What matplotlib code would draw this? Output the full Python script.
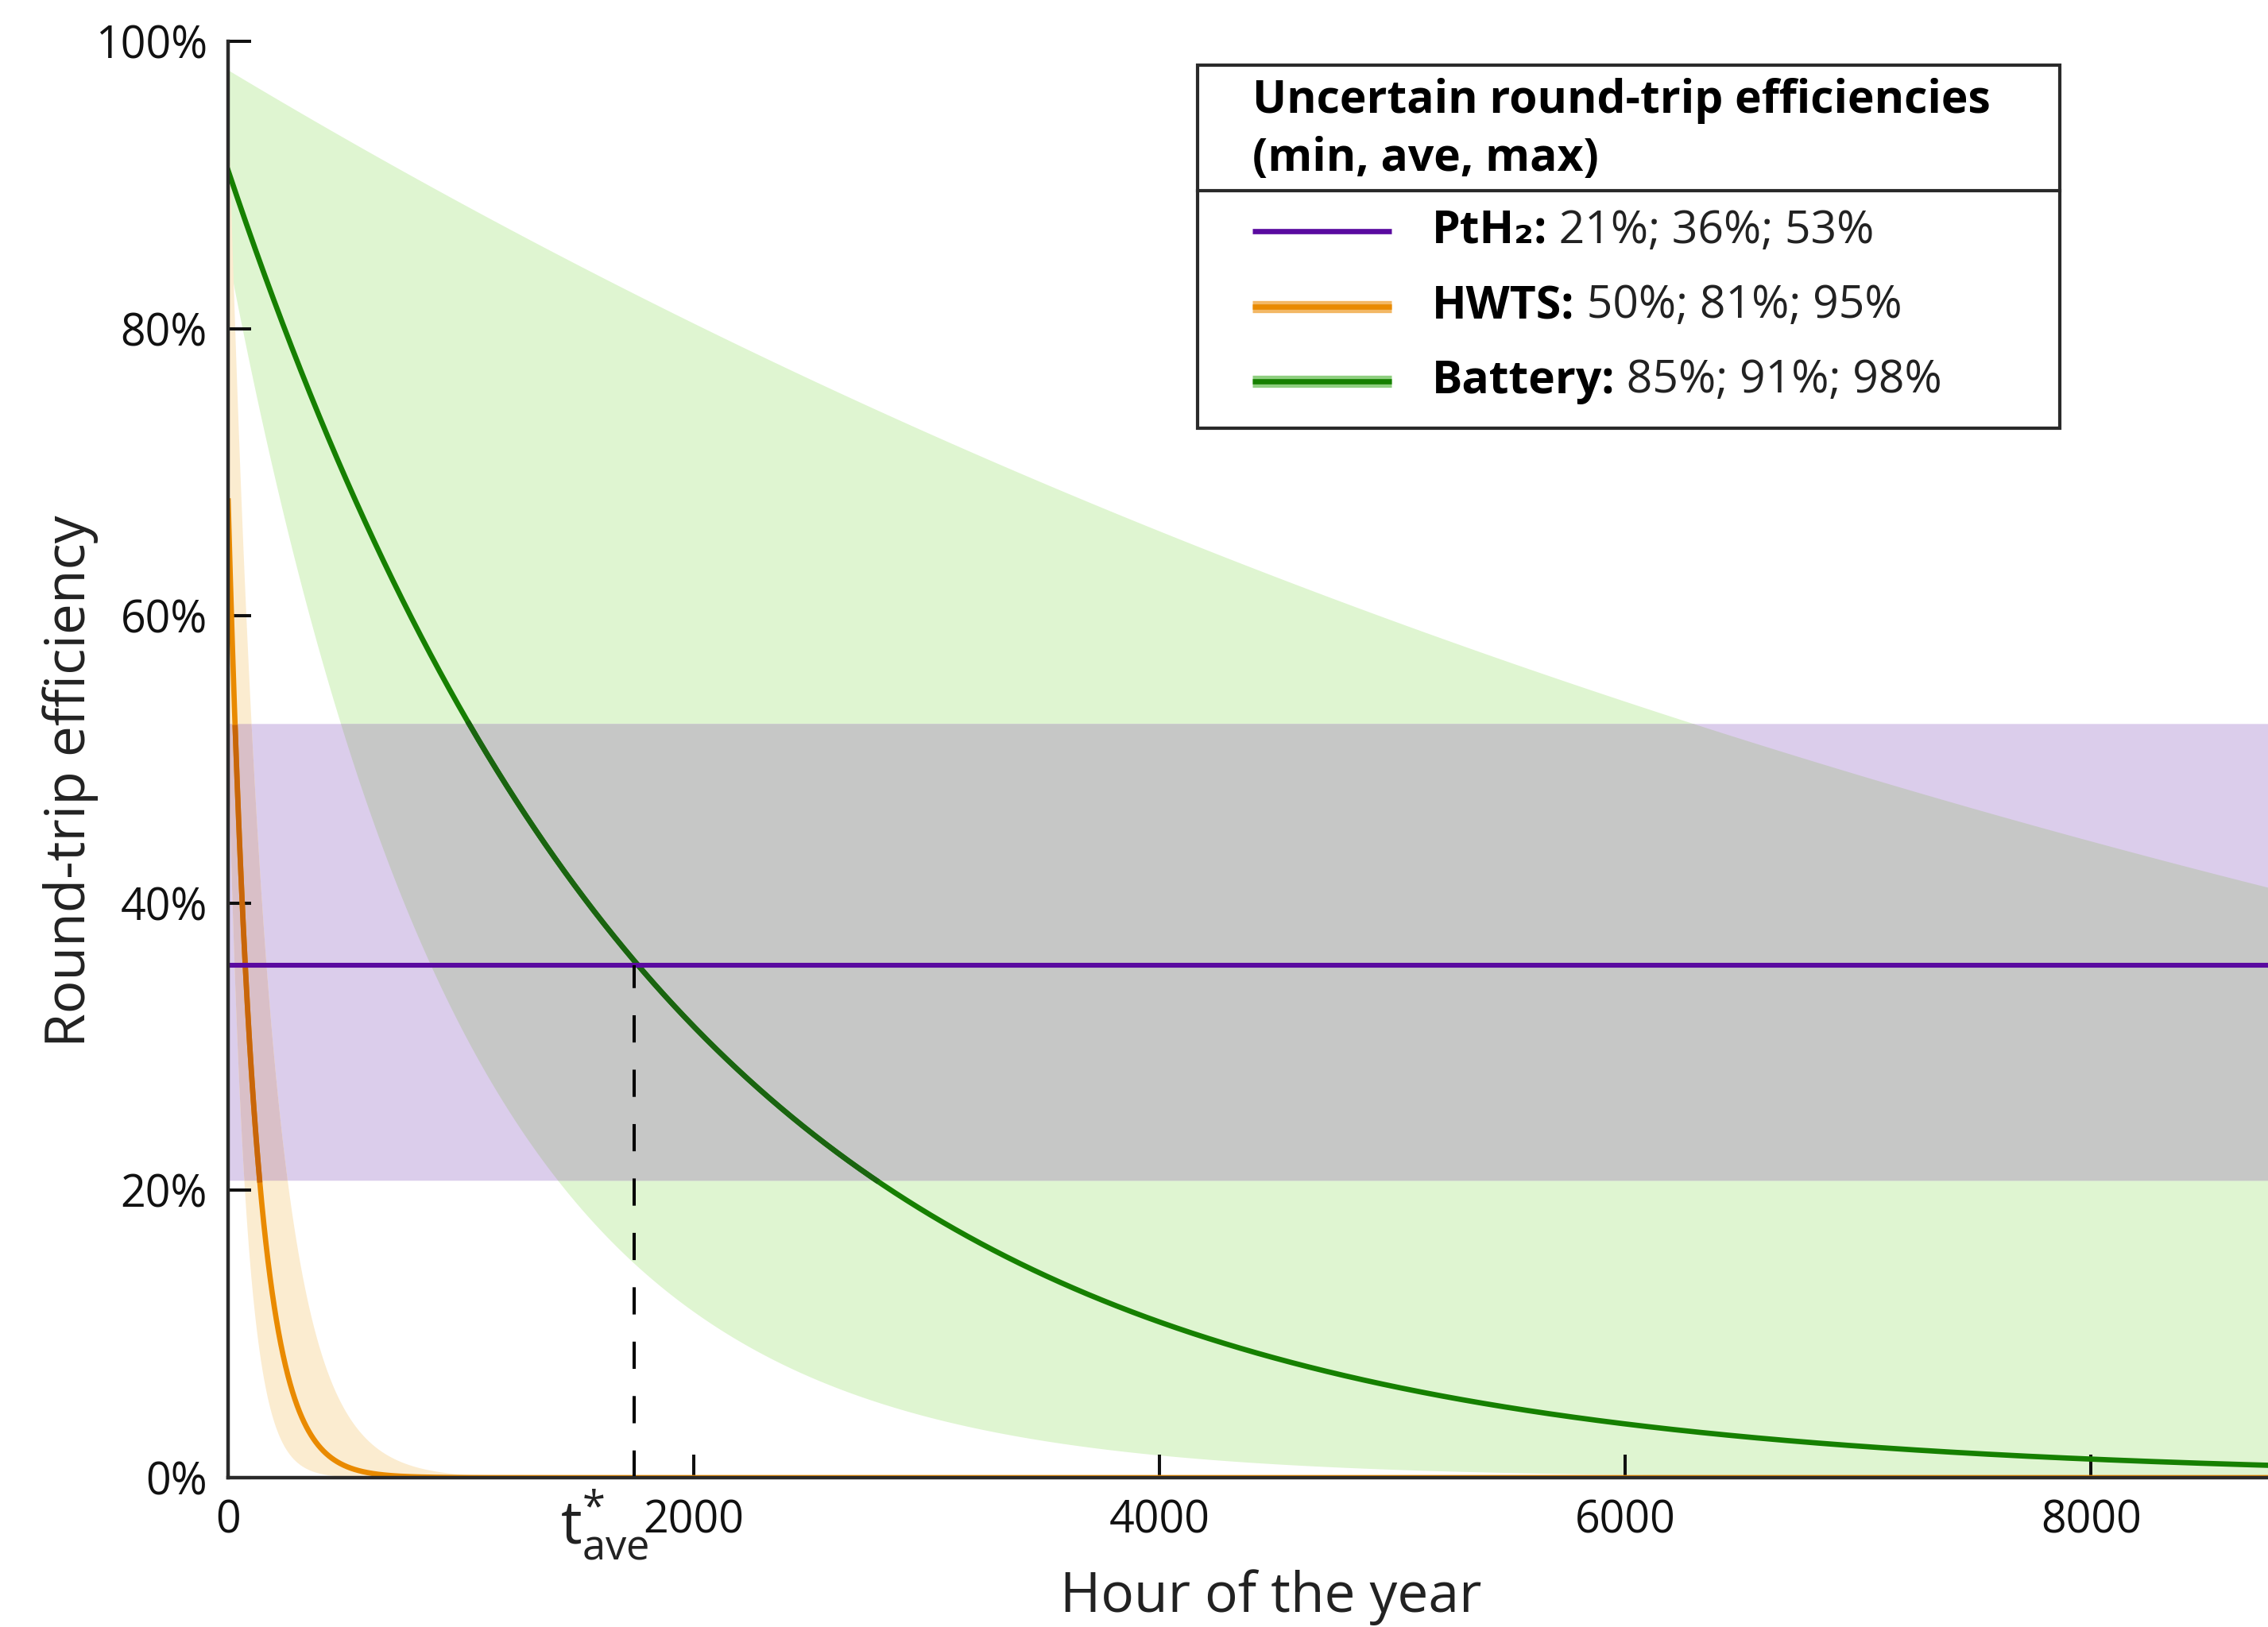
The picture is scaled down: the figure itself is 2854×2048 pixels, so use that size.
import numpy as np
import matplotlib
matplotlib.use("Agg")
import matplotlib.pyplot as plt
from matplotlib.lines import Line2D
from matplotlib.patches import Rectangle
from matplotlib.ticker import PercentFormatter

plt.rcParams['font.family'] = ['Open Sans', 'DejaVu Sans']
plt.rcParams['mathtext.fontset'] = 'custom'
plt.rcParams['mathtext.rm'] = 'Open Sans'
plt.rcParams['mathtext.it'] = 'Open Sans'

# hours of the year
hours = np.arange(0, 8761)

# PtH2: constant round-trip efficiency (min, ave, max)
pth2_eff = [0.207, 0.357, 0.525]
# HWTS: efficiency at hour 0 and hourly storage loss (min, ave, max curves)
hwts_start = [0.50, 0.68, 0.95]
hwts_loss = [0.013, 0.0088, 0.006]
# Battery: efficiency at hour 0 and hourly storage loss (min, ave, max curves)
bat_start = [0.85, 0.91, 0.98]
bat_loss = [0.000998, 0.000532, 0.0000992]
# break-even hour for average values
t_star = 1744

legend_rows = [("PtH₂:", " 21%; 36%; 53%"),
               ("HWTS:", " 50%; 81%; 95%"),
               ("Battery:", " 85%; 91%; 98%")]

purple, purple_fill = '#5a0aa0', '#dbcdeb'
orange, orange_fill = '#e98a00', '#fbecd0'
green, green_fill = '#168000', '#dff5d1'
grey_mix, orange_mix = '#c6c7c6', '#d9bfc7'
green_dark, orange_dark = '#1a6410', '#c8660a'


def decay(start, loss):
    return start * np.exp(-loss * hours)


hw = [decay(s, l) for s, l in zip(hwts_start, hwts_loss)]
bat = [decay(s, l) for s, l in zip(bat_start, bat_loss)]
p_lo, p_ave, p_hi = pth2_eff

fig = plt.figure(figsize=(28.54, 20.48), dpi=100)
ax = fig.add_axes([0.1006, 0.0918, 0.8994, 0.8828])

# bands (overlaps drawn as multiplied colours)
ax.fill_between(hours, bat[0], bat[2], color=green_fill, lw=0, zorder=1)
ax.fill_between(hours, p_lo, p_hi, color=purple_fill, lw=0, zorder=1.1)
lo = np.maximum(p_lo, bat[0])
hi = np.minimum(p_hi, bat[2])
ax.fill_between(hours, lo, hi, where=hi > lo, color=grey_mix, lw=0, zorder=1.2)
ax.fill_between(hours, hw[0], hw[2], color=orange_fill, lw=0, zorder=1.3)
lo = np.maximum(p_lo, hw[0])
hi = np.minimum(p_hi, hw[2])
ax.fill_between(hours, lo, hi, where=hi > lo, color=orange_mix, lw=0, zorder=1.4)

# average lines
ax.axhline(p_ave, color=purple, lw=4.4, zorder=2.2)
ax.plot(hours, hw[1], color=orange, lw=4.8, zorder=2)
ax.plot(hours, np.where((hw[1] > p_lo) & (hw[1] < p_hi), hw[1], np.nan),
        color=orange_dark, lw=4.8, zorder=2.05)
ax.plot(hours, bat[1], color=green, lw=4.8, zorder=2)
ax.plot(hours, np.where((bat[1] > p_lo) & (bat[1] < p_hi), bat[1], np.nan),
        color=green_dark, lw=4.8, zorder=2.05)

ax.plot([t_star, t_star], [0, p_ave], color='black', lw=2.9,
        linestyle=(0, (8.5, 8.5)), zorder=2.3)
ax.annotate(r'$\mathrm{t}^{*}_{\mathrm{ave}}$', xy=(t_star, 0), xycoords='data',
            xytext=(-27, -10), textcoords='offset points', ha='center', va='top',
            fontsize=54, color='#222222', annotation_clip=False)

ax.set_xlim(0, 8760)
ax.set_ylim(0, 1)
ax.set_xticks([0, 2000, 4000, 6000, 8000])
ax.set_yticks(np.arange(0, 1.01, 0.2))
ax.yaxis.set_major_formatter(PercentFormatter(1.0, decimals=0))
ax.tick_params(direction='in', length=21, width=2.9, labelsize=40,
               colors='#111111', pad=19)
for side in ['top', 'right']:
    ax.spines[side].set_visible(False)
for side in ['left', 'bottom']:
    ax.spines[side].set_linewidth(3.2)
    ax.spines[side].set_color('#2a2a2a')

ax.set_xlabel("Hour of the year", fontsize=50, color='#222222')
ax.set_ylabel("Round-trip efficiency", fontsize=50, color='#222222')
ax.xaxis.set_label_coords(0.511, -0.064)
ax.yaxis.set_label_coords(-0.0635, 0.485)

# legend box (figure pixel layout)
W, H = 2854.0, 2048.0


def fx(px):
    return px / W


def fy(py):
    return 1 - py / H


box = Rectangle((fx(1507), fy(539)), fx(2592) - fx(1507), fy(82) - fy(539),
                transform=fig.transFigure, facecolor='white', edgecolor='#2a2a2a',
                lw=3, zorder=5)
fig.add_artist(box)
fig.add_artist(Line2D([fx(1507), fx(2592)], [fy(240), fy(240)],
                      transform=fig.transFigure, color='#2a2a2a', lw=3, zorder=6))
fig.text(fx(1576), fy(127), "Uncertain round-trip efficiencies", fontsize=41,
         fontweight='bold', va='center', ha='left', zorder=7)
fig.text(fx(1576), fy(200), "(min, ave, max)", fontsize=41,
         fontweight='bold', va='center', ha='left', zorder=7)

row_y = [291, 386, 480]
handle_styles = [(purple, None), (orange, '#f3b865'), (green, '#8fcf80')]
for (name, vals), py, (col, halo) in zip(legend_rows, row_y, handle_styles):
    if halo is not None:
        fig.add_artist(Line2D([fx(1576), fx(1751)], [fy(py), fy(py)],
                              transform=fig.transFigure, color=halo, lw=11,
                              solid_capstyle='butt', zorder=7))
    fig.add_artist(Line2D([fx(1576), fx(1751)], [fy(py), fy(py)],
                          transform=fig.transFigure, color=col, lw=4.8,
                          solid_capstyle='butt', zorder=8))
    t = fig.text(fx(1802), fy(py), name, fontsize=41, fontweight='bold',
                 va='center', ha='left', zorder=8)
    fig.canvas.draw()
    bb = t.get_window_extent()
    fig.text(bb.x1 / W, fy(py), vals, fontsize=41, va='center', ha='left',
             color='#222222', zorder=8)

fig.savefig("out.png", dpi=100)
